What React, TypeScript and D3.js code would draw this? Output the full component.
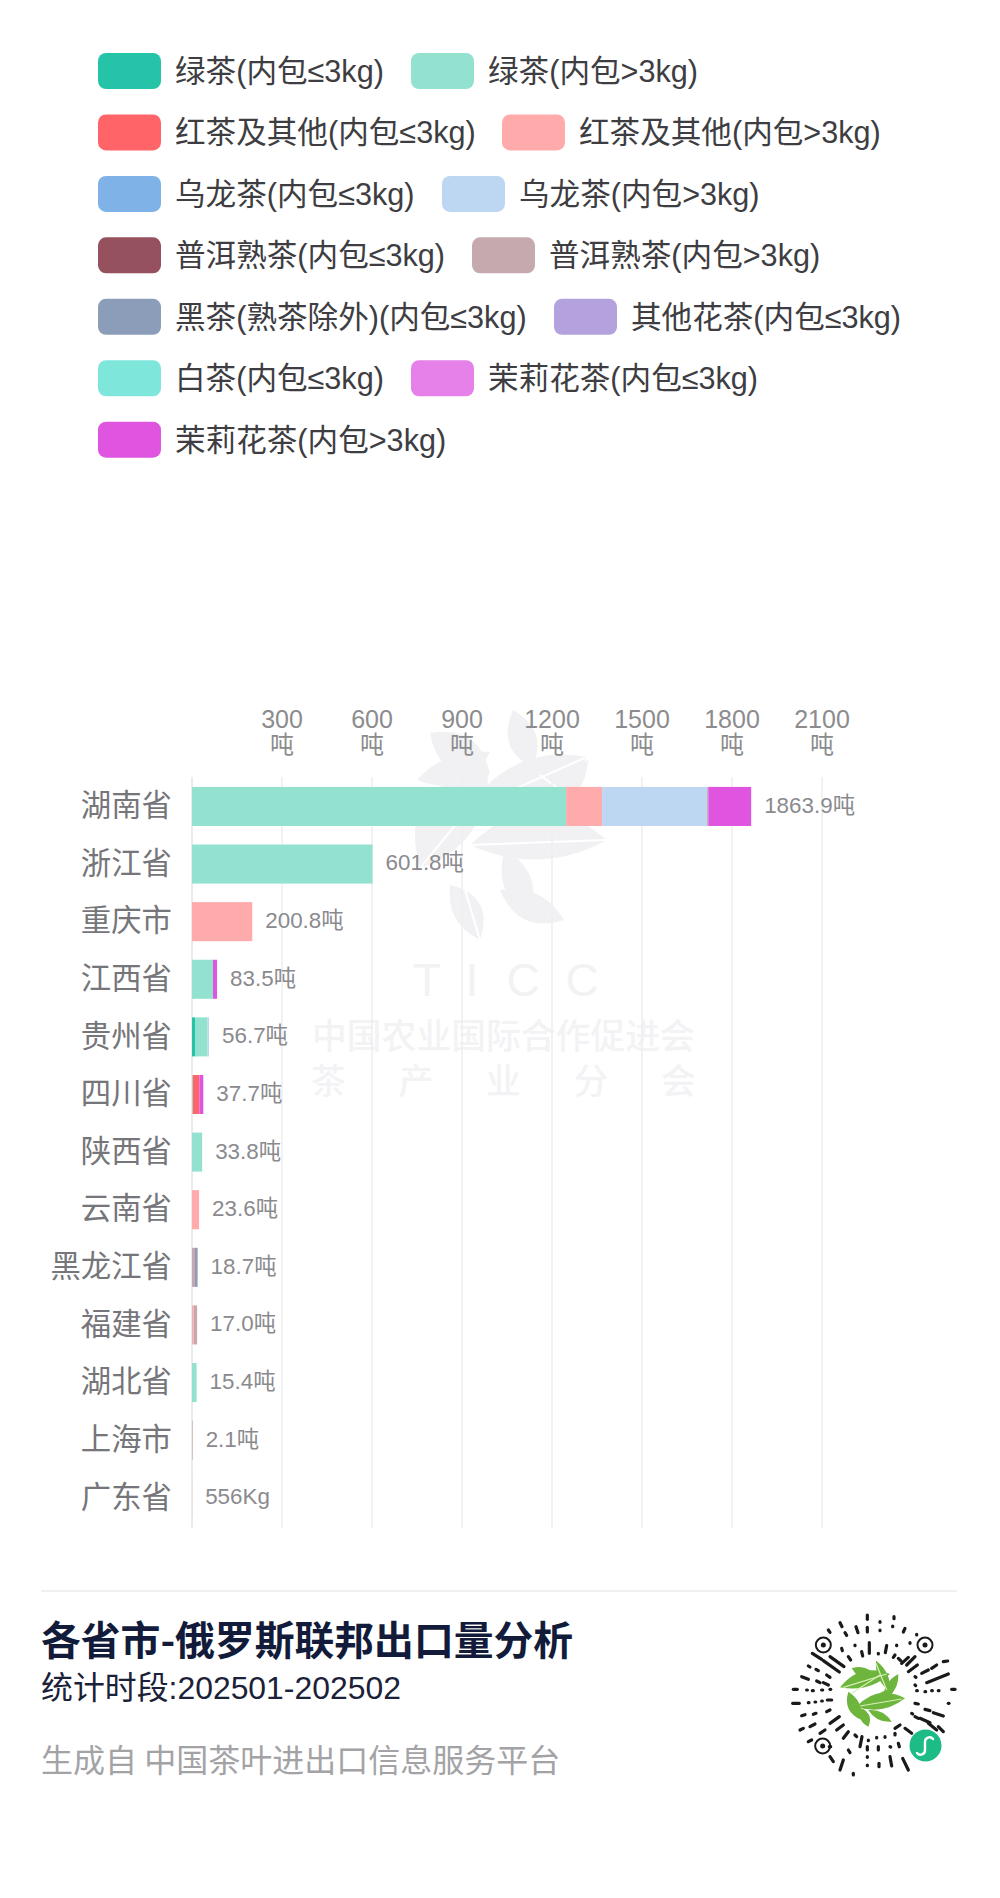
import React from "react";
import * as d3 from "d3";

const categories = ["湖南省","浙江省","重庆市","江西省","贵州省","四川省","陕西省","云南省","黑龙江省","福建省","湖北省","上海市","广东省"];
const totalLabels = ["1863.9吨","601.8吨","200.8吨","83.5吨","56.7吨","37.7吨","33.8吨","23.6吨","18.7吨","17.0吨","15.4吨","2.1吨","556Kg"];
const seriesNames = ["绿茶(内包≤3kg)","绿茶(内包>3kg)","红茶及其他(内包≤3kg)","红茶及其他(内包>3kg)","乌龙茶(内包≤3kg)","乌龙茶(内包>3kg)","普洱熟茶(内包≤3kg)","普洱熟茶(内包>3kg)","黑茶(熟茶除外)(内包≤3kg)","其他花茶(内包≤3kg)","白茶(内包≤3kg)","茉莉花茶(内包≤3kg)","茉莉花茶(内包>3kg)"];
const seriesColors = ["#25C4A8","#93E2CF","#FF6568","#FFABAB","#7FB2E6","#BDD6F2","#95525E","#C6A9AE","#8B9DB8","#B3A2DE","#7FE6DC","#E581E9","#E055E0"];

const greenSmall  = [0,0,0,0,10,0,0,0,0,0,0,0,0];
const greenLarge  = [1247,601.8,0,70,42,2.7,33.8,0,0,0,15.4,0,0];
const redSmall    = [0,0,0,0,0,22,0,0,0,0,0,0,0];
const redLarge    = [120,0,200.8,0,0,0,0,23.6,0,5,0,0,0.556];
const oolongSmall = [0,0,0,0,0,0,0,0,0,0,0,0,0];
const oolongLarge = [350,0,0,0,4.7,0,0,0,0,0,0,0,0];
const puerSmall   = [0,0,0,0,0,0,0,0,0,0,0,0,0];
const puerLarge   = [4,0,0,0,0,0,0,0,10,12,0,2.1,0];
const blackSmall  = [0,0,0,0,0,0,0,0,8.7,0,0,0,0];
const otherSmall  = [0,0,0,0,0,0,0,0,0,0,0,0,0];
const whiteSmall  = [0,0,0,0,0,0,0,0,0,0,0,0,0];
const jasmineSmall= [0,0,0,0,0,0,0,0,0,0,0,0,0];
const jasmineLarge= [142.9,0,0,13.5,0,13,0,0,0,0,0,0,0];

const seriesValues = [greenSmall,greenLarge,redSmall,redLarge,oolongSmall,oolongLarge,puerSmall,puerLarge,blackSmall,otherSmall,whiteSmall,jasmineSmall,jasmineLarge];
const xTicks = [300,600,900,1200,1500,1800,2100];

// legend rows, as indexes into the series, with the left edge of every entry
const legendRows = [[[0,98],[1,411]],[[2,98],[3,502]],[[4,98],[5,442]],[[6,98],[7,472]],[[8,98],[9,554]],[[10,98],[11,411]],[[12,98]]];

const SANS = '"Liberation Sans","Noto Sans CJK SC",sans-serif';
const CJK = '"Noto Sans CJK SC","Liberation Sans",sans-serif';

const x = d3.scaleLinear().domain([0,2100]).range([192,822]);
const y = d3.scaleBand().domain(categories).range([777.7,1526.5]).paddingInner(0.322).paddingOuter(0.16);

const rows = categories.map((c,i)=>{
  const r: any = {category:c};
  seriesNames.forEach((s,k)=>{ r[s]=seriesValues[k][i]; });
  return r;
});
const stacked = d3.stack().keys(seriesNames)(rows);

function leaf(ax:number,ay:number,bx:number,by:number,w:number,bend=0){
  const mx=(ax+bx)/2, my=(ay+by)/2, dx=bx-ax, dy=by-ay, len=Math.hypot(dx,dy);
  const nx=-dy/len, ny=dx/len;
  const c1=[mx+nx*(2*w+bend),my+ny*(2*w+bend)], c2=[mx-nx*(2*w-bend),my-ny*(2*w-bend)];
  return `M${ax},${ay}Q${c1[0]},${c1[1]} ${bx},${by}Q${c2[0]},${c2[1]} ${ax},${ay}Z`;
}

// watermark leaves, in reference pixels: tip, base, half-width, bend
const markLeaves = [
  [430,733,490,775,18,0],[513,710,532,768,14,0],[587,757,482,790,22,-14],[417,780,490,752,14,8],
  [420,868,488,775,28,-16],[607,840,470,845,24,14],[480,940,450,885,14,6],[564,920,500,890,14,-4],[588,760,555,808,9,0],[505,850,530,915,14,0],[480,800,560,830,22,0],
];
const markVeins = [
  [587,757,490,800],[420,868,480,795],[607,840,470,845],[480,940,462,880],[540,775,560,790],
];

// QR code strokes, in zoomed reference units from the code's top-left corner
const qrStrokes = [
 [262,45,262,58],[342,50,342,56],[300,65,300,67],[180,68,186,80],[228,80,234,98],[262,82,262,96],[338,78,338,80],[375,85,370,96],[145,90,150,97],[300,90,300,92],[195,98,200,106],[410,103,410,105],
 [268,128,268,160],[225,135,225,137],[185,145,187,152],[350,135,350,137],[320,137,316,158],[390,128,390,130],[245,155,248,168],[205,170,212,180],[295,160,295,162],[345,165,340,172],
 [97,160,125,178],[130,182,178,216],[150,170,192,200],[85,198,90,201],[108,208,115,212],[140,225,150,232],[65,230,85,238],[110,243,120,248],[130,248,145,255],[40,268,52,268],[80,270,82,270],[97,272,100,272],[125,270,128,270],[150,268,152,268],
 [38,310,58,310],[85,308,87,308],[105,306,107,306],[125,303,127,303],[142,300,155,300],[65,347,75,344],[100,343,108,340],[140,335,150,330],[60,390,70,385],[90,380,105,372],[120,400,135,390],[150,370,178,350],[170,390,190,375],[190,415,205,395],[225,405,230,410],[85,425,95,420],[148,440,152,440],[150,470,160,485],[205,450,210,458],[240,440,246,410],
 [265,420,265,422],[290,412,290,414],[315,410,315,412],[345,400,345,405],[375,385,395,400],[345,385,360,375],[180,510,190,480],[262,470,262,472],[220,520,220,525],[295,440,295,450],[262,495,262,497],[297,490,297,500],[330,470,335,498],[355,430,358,440],[368,475,385,510],[330,440,332,441],[262,440,262,450],
 [380,195,405,170],[385,215,412,195],[425,220,445,210],[455,205,470,195],[490,185,503,183],[440,248,505,222],[405,230,408,232],[405,255,407,257],[410,272,412,272],[435,275,437,275],[455,272,457,272],[475,272,477,272],[515,268,525,268],[505,310,507,310],[405,310,415,312],[435,328,450,332],[460,338,490,348],[405,350,415,355],[420,355,450,368],[395,340,398,342],[475,380,490,395],[445,370,470,390],[365,190,385,172],[355,175,362,182],
];
const qrEyes = [[130,135],[435,135],[128,438]];
const qrLeaves = [
 [180,262,330,222,24,-10],[288,182,330,275,14,0],[355,222,310,300,14,0],[215,205,290,235,16,0],[205,275,245,360,18,6],[375,295,230,320,24,8],[265,380,245,325,14,0],[335,365,265,330,12,0],[290,290,340,275,10,0],
];
const qrVeins = [[190,262,320,222],[215,280,300,225],[365,297,240,318],[288,190,320,270]];

const qx=(v:number)=>780+v/3, qy=(v:number)=>1600+v/3;

export default function App(){
  return (
    <svg width={1000} height={1898} viewBox="0 0 1000 1898" style={{position:"absolute",left:0,top:0,display:"block",background:"#fff"}}>
      <rect width={1000} height={1898} fill="#fff"/>
      {/* legend */}
      <g>
        {legendRows.map((row,ri)=>row.map(([k,lx])=>{
          const cy=71+ri*61.45;
          return <g key={k}>
            <rect x={lx} y={cy-18} width={63} height={36} rx={8} fill={seriesColors[k]}/>
            <text x={lx+77} y={cy+11} fontFamily={SANS} fontSize={30.6} fill="#3d3d42">{seriesNames[k]}</text>
          </g>;
        }))}
      </g>
      {/* watermark */}
      <g fill="#f1f1f3">
        {markLeaves.map((l,i)=><path key={i} d={leaf(l[0],l[1],l[2],l[3],l[4],l[5])}/>)}
        {markVeins.map((l,i)=><line key={i} x1={l[0]} y1={l[1]} x2={l[2]} y2={l[3]} stroke="#fff" strokeWidth={2}/>)}
        {["T","I","C","C"].map((t,i)=><text key={i} x={[427,472,523,582][i]} y={984} textAnchor="middle" dominantBaseline="middle" fontFamily={SANS} fontSize={46} fill="#f2f2f4">{t}</text>)}
        <text x={312} y={1049} fontFamily={SANS} fontSize={34.8} fontWeight={500} fill="#f3f3f5">中国农业国际合作促进会</text>
        <text x={311} y={1094} fontFamily={SANS} fontSize={34.8} fontWeight={500} letterSpacing={52.7} fill="#f3f3f5">茶产业分会</text>
      </g>
      {/* grid and axis */}
      <line x1={x(0)} x2={x(0)} y1={777} y2={1528} stroke="#e4e4e6" strokeWidth={1.5}/>
      {xTicks.map(t=><g key={t}>
        <line x1={x(t)} x2={x(t)} y1={777} y2={1528} stroke="#eeeeef" strokeWidth={1.5}/>
        <text textAnchor="middle" fontFamily={SANS} fill="#8c8c8e" fontSize={25}>
          <tspan x={x(t)} y={728}>{t}</tspan>
          <tspan x={x(t)} dy={25} fontSize={24}>吨</tspan>
        </text>
      </g>)}
      {/* bars */}
      {stacked.map((s,k)=><g key={s.key} fill={seriesColors[k]}>
        {s.map((d,i)=>d[1]>d[0]?<rect key={i} x={x(d[0])} y={y(categories[i])!} width={x(d[1])-x(d[0])} height={y.bandwidth()}/>:null)}
      </g>)}
      {/* labels */}
      {categories.map((c,i)=>{
        const cy=y(c)!+y.bandwidth()/2;
        const end=x(d3.sum(seriesValues,v=>v[i]));
        return <g key={c}>
          <text x={172} y={cy+1.5} textAnchor="end" dominantBaseline="middle" fontFamily={CJK} fontSize={30.4} fill="#75757a">{c}</text>
          <text x={end+13} y={cy+0.5} dominantBaseline="middle" fontFamily={SANS} fontSize={22.4} fill="#8a8a8e">{totalLabels[i]}</text>
        </g>;
      })}
      {/* footer */}
      <line x1={41} x2={957} y1={1591} y2={1591} stroke="#f0f0f2" strokeWidth={2}/>
      <text x={41} y={1644} dominantBaseline="middle" fontFamily={CJK} fontSize={39.8} fontWeight={700} fill="#121b3a">各省市-俄罗斯联邦出口量分析</text>
      <text x={41} y={1691} dominantBaseline="middle" fontFamily={SANS} fontSize={31.9} fill="#1b2138">统计时段:202501-202502</text>
      <text x={41} y={1763} dominantBaseline="middle" fontFamily={CJK} fontSize={32} fill="#a3a3a6">生成自 中国茶叶进出口信息服务平台</text>
      {/* mini-program code */}
      <g stroke="#1a1a1a" strokeWidth={3.2} strokeLinecap="round" fill="none">
        {qrStrokes.map((s,i)=><line key={i} x1={qx(s[0])} y1={qy(s[1])} x2={qx(s[2])} y2={qy(s[3])}/>)}
        {qrEyes.map((e,i)=><g key={i}>
          <circle cx={qx(e[0])} cy={qy(e[1])} r={7.5} strokeWidth={2}/>
          <circle cx={qx(e[0])} cy={qy(e[1])} r={2.5} fill="#1a1a1a" stroke="none"/>
        </g>)}
      </g>
      <g fill="#6DB53C">
        {qrLeaves.map((l,i)=><path key={i} d={leaf(qx(l[0]),qy(l[1]),qx(l[2]),qy(l[3]),l[4]/3,l[5]/3)}/>)}
        {qrVeins.map((l,i)=><line key={i} x1={qx(l[0])} y1={qy(l[1])} x2={qx(l[2])} y2={qy(l[3])} stroke="#D8F0B8" strokeWidth={1.2}/>)}
      </g>
      <circle cx={925.5} cy={1745.5} r={16} fill="#1DBB85"/>
      <path d={`M917,1753a4.5,4.5 0 0 0 8,-3v-8a4.5,4.5 0 0 1 8,-3`} fill="none" stroke="#fff" strokeWidth={2.4} strokeLinecap="round"/>
    </svg>
  );
}
